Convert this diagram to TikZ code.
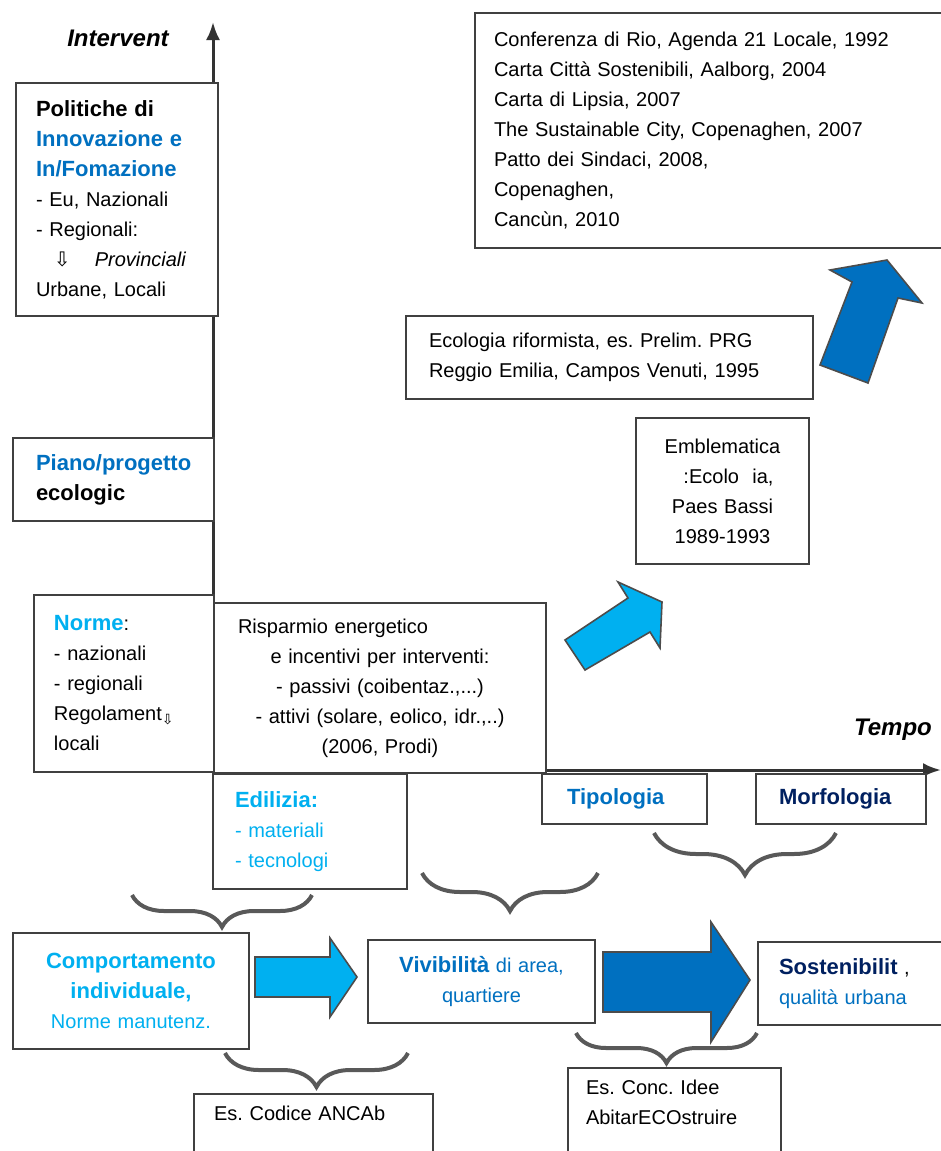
\documentclass[tikz,border=0pt]{standalone}
\usepackage{fontspec}
\setmainfont{Liberation Sans}
\newfontfamily\arrowfont{DejaVu Sans}
\usetikzlibrary{arrows.meta,decorations.pathreplacing}
\frenchspacing

\definecolor{cyanblue}{RGB}{0,176,240}
\definecolor{midblue}{RGB}{0,112,192}
\definecolor{navyblue}{RGB}{0,32,96}

\newcommand{\hd}[2]{\textcolor{#1}{\fontsize{11}{15}\selectfont\bfseries #2}}
\newcommand{\dnarrow}{{\arrowfont ⇩}}

\tikzset{
	box/.style={draw=black!75, line width=1pt, fill=white, inner sep=0pt, anchor=north west, font=\fontsize{10}{15}\selectfont},
	axis/.style={line width=1.5pt, draw=black!80, -{Latex[length=9pt,width=7pt]}},
	curly/.style={decorate, decoration={brace, mirror, amplitude=#1}, line width=2pt, draw=black!65},
	curly/.default=17pt,
	blockarrow/.style={draw=black!70, line width=0.8pt, line join=miter},
}

\begin{document}
\begin{tikzpicture}[x=0.5pt, y=-0.5pt]
	\useasboundingbox (0,0) rectangle (941,1151);
	\clip (0,0) rectangle (941,1151);
	\fill[white] (0,0) rectangle (941,1151);

	% axes
	\coordinate (origin) at (213,770);
	\coordinate (ytip) at (213,22);
	\coordinate (xtip) at (941,770);
	\draw[axis] (origin) -- (ytip);
	\draw[axis] (origin) -- (xtip);
	\node (intervent) at (118,38) {\fontsize{12}{14}\selectfont\bfseries\itshape Intervent};
	\node (tempo) at (893,730) {\fontsize{12}{14}\selectfont\bfseries\itshape Tempo};

	% left column
	\node[box, text width=81pt, inner xsep=10pt, minimum height=116.5pt, align=left] (politiche) at (15,82)
		{\hd{black}{Politiche di}\\ \hd{midblue}{Innovazione e}\\ \hd{midblue}{In/Fomazione}\\ - Eu, Nazionali\\ - Regionali:\\ \hspace*{9pt}\dnarrow\hspace{12pt}\textit{Provinciali}\\ Urbane, Locali};
	\node[box, text width=77.5pt, inner xsep=11.5pt, minimum height=41.5pt, align=left] (piano) at (12,437)
		{\hd{midblue}{Piano/progetto}\\ \hd{black}{ecologic}};
	\node[box, text width=70pt, inner xsep=10pt, minimum height=88.5pt, align=left] (norme) at (33,594)
		{\hd{cyanblue}{Norme}:\\ - nazionali\\ - regionali\\ Regolament\raisebox{-2pt}{\arrowfont\scriptsize ⇩}\\ locali};
	\node[box, text width=146pt, inner xsep=10pt, minimum height=85pt, align=center] (risparmio) at (213,602)
		{\makebox[146pt][l]{\hspace*{2pt}Risparmio energetico}\\ e incentivi per interventi:\\ - passivi (coibentaz.,...)\\ - attivi (solare, eolico, idr.,..)\\ (2006, Prodi)};

	% below the time axis
	\node[box, text width=75pt, inner xsep=11pt, minimum height=57.5pt, align=left] (edilizia) at (212,773)
		{\hd{cyanblue}{Edilizia:}\\ \textcolor{cyanblue}{- materiali}\\ \textcolor{cyanblue}{- tecnologi}};
	\node[box, text width=57.5pt, inner xsep=12.5pt, minimum height=25pt, align=left] (tipologia) at (541,773)
		{\hd{midblue}{Tipologia}};
	\node[box, text width=62pt, inner xsep=11.5pt, minimum height=25pt, align=left] (morfologia) at (755,773)
		{\hd{navyblue}{Morfologia}};

	% upper right
	\node[box, text width=224pt, inner xsep=9.5pt, minimum height=117.5pt, align=left] (conferenza) at (474,12)
		{Conferenza di Rio, Agenda 21 Locale, 1992\\ Carta Città Sostenibili, Aalborg, 2004\\ Carta di Lipsia, 2007\\ The Sustainable City, Copenaghen, 2007\\ Patto dei Sindaci, 2008,\\ Copenaghen,\\ Cancùn, 2010};
	\node[box, text width=180.5pt, inner xsep=11.5pt, minimum height=41.5pt, align=left] (ecologia) at (405,315)
		{Ecologia riformista, es. Prelim. PRG\\ Reggio Emilia, Campos Venuti, 1995};
	\node[box, text width=76.5pt, inner xsep=5pt, minimum height=73pt, align=center] (emblematica) at (635,417)
		{Emblematica\\ \hspace*{6pt}:Ecolo\ \ ia,\\ Paes Bassi\\ 1989-1993};

	% bottom row
	\node[box, text width=108pt, inner xsep=5pt, minimum height=58pt, align=center] (comportamento) at (12,932)
		{\hd{cyanblue}{Comportamento}\\ \hd{cyanblue}{individuale,}\\ \textcolor{cyanblue}{Norme manutenz.}};
	\node[box, text width=103.5pt, inner xsep=5pt, minimum height=41.5pt, align=center] (vivibilita) at (367,939)
		{\hd{midblue}{Vivibilità} \textcolor{midblue}{di area,}\\ \textcolor{midblue}{quartiere}};
	\node[box, text width=80.5pt, inner xsep=10.5pt, minimum height=41.5pt, align=left] (sostenibilita) at (757,941)
		{\hd{navyblue}{Sostenibilit} ,\\ \textcolor{midblue}{qualità urbana}};
	\node[box, text width=99.5pt, inner xsep=10pt, inner ysep=5pt, text height=8pt, text depth=40pt, align=left] (codice) at (193,1093)
		{Es. Codice ANCAb};
	\node[box, text width=88.5pt, inner xsep=9pt, inner ysep=5pt, text height=8pt, text depth=45pt, align=left] (concidee) at (567,1067)
		{Es. Conc. Idee\\ AbitarECOstruire};

	% braces
	\draw[curly=16pt] (132,895) -- (312,895);
	\draw[curly=19pt] (422,873) -- (598,873);
	\draw[curly=21pt] (654,833) -- (836,833);
	\draw[curly=17pt] (225,1053) -- (408,1053);
	\draw[curly=15pt] (576,1033) -- (757,1033);

	% block arrows
	\filldraw[blockarrow, fill=cyanblue] (255,957) -- (330,957) -- (330,938) -- (357,977) -- (330,1017) -- (330,997) -- (255,997) -- cycle;
	\filldraw[blockarrow, fill=midblue] (603,952) -- (711,952) -- (711,922) -- (750,980) -- (711,1042) -- (711,1012) -- (603,1012) -- cycle;
	\filldraw[blockarrow, fill=cyanblue] (565,640) -- (628,598) -- (618,582) -- (662,602) -- (660,648) -- (650,632) -- (585,670) -- cycle;
	\filldraw[blockarrow, fill=midblue] (820,365) -- (852,282) -- (830,270) -- (887,260) -- (922,303) -- (898,298) -- (868,383) -- cycle;
\end{tikzpicture}
\end{document}
